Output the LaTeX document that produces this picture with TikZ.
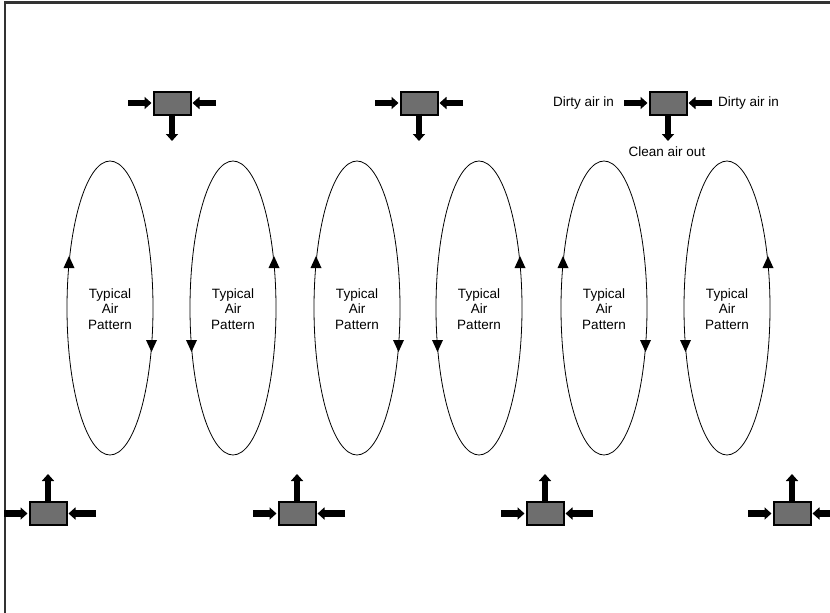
\documentclass[tikz,border=0pt]{standalone}
\usepackage{fontspec}
\setmainfont{Liberation Sans}
\usetikzlibrary{arrows.meta,calc}
\tikzset{
  unitbox/.style={draw=black,line width=2pt,fill=black!57,minimum width=37pt,minimum height=23pt,inner sep=0pt},
  fat/.style={line width=6.5pt,-{Triangle[length=7pt,width=12pt]},black},
  lbl/.style={font=\fontsize{13.5}{15.5}\selectfont,inner sep=0pt},
  loop/.style={line width=0.8pt,black},
  frame/.style={line width=2.6pt,black!80},
}
\begin{document}
\begin{tikzpicture}[x=1pt,y=-1pt]
\useasboundingbox (0,0) rectangle (830,613);
% frame
\coordinate (fA) at (5,613);
\coordinate (fB) at (5,2.5);
\coordinate (fC) at (832,2.5);
\draw[frame] (fA) -- (fB) -- (fC);

% top units
\foreach \i/\cx in {1/172,2/419,3/668}{
  \node[unitbox] (t\i) at (\cx,103) {};
  \coordinate (tl\i) at (\cx-44,103);
  \coordinate (tr\i) at (\cx+44,103);
  \coordinate (td\i) at (\cx,141);
  \draw[fat] (tl\i) -- ([xshift=-1pt]t\i.west);
  \draw[fat] (tr\i) -- ([xshift=1pt]t\i.east);
  \draw[fat] ([yshift=2pt]t\i.south) -- (td\i);
}
\node[lbl,anchor=east] (dl) at (614,103) {Dirty air in};
\node[lbl,anchor=west] (dr) at (718,103) {Dirty air in};
\node[lbl] (co) at (667,152) {Clean air out};

% bottom units
\foreach \i/\cx in {1/48,2/297,3/545,4/792}{
  \node[unitbox] (b\i) at (\cx,513.5) {};
  \coordinate (bl\i) at (\cx-44,513.5);
  \coordinate (br\i) at (\cx+48,513.5);
  \coordinate (bu\i) at (\cx,474);
  \draw[fat] (bl\i) -- ([xshift=-1pt]b\i.west);
  \draw[fat] (br\i) -- ([xshift=1pt]b\i.east);
  \draw[fat] ([yshift=-2pt]b\i.north) -- (bu\i);
}

% air pattern loops
\foreach \i/\cx/\s in {1/110/1,2/233/-1,3/357/1,4/479/-1,5/604/1,6/727/-1}{
  \draw[loop] (\cx,308) ellipse [x radius=43,y radius=147];
  \node[lbl,align=center] (p\i) at (\cx,309) {Typical\\Air\\Pattern};
  % up arrowhead
  \fill[black] ({\cx-\s*41-5.5},268) -- ({\cx-\s*41+5.5},268) -- ({\cx-\s*41},256) -- cycle;
  % down arrowhead
  \fill[black] ({\cx+\s*41.5-5.5},340) -- ({\cx+\s*41.5+5.5},340) -- ({\cx+\s*41.5},352) -- cycle;
}
\end{tikzpicture}
\end{document}
